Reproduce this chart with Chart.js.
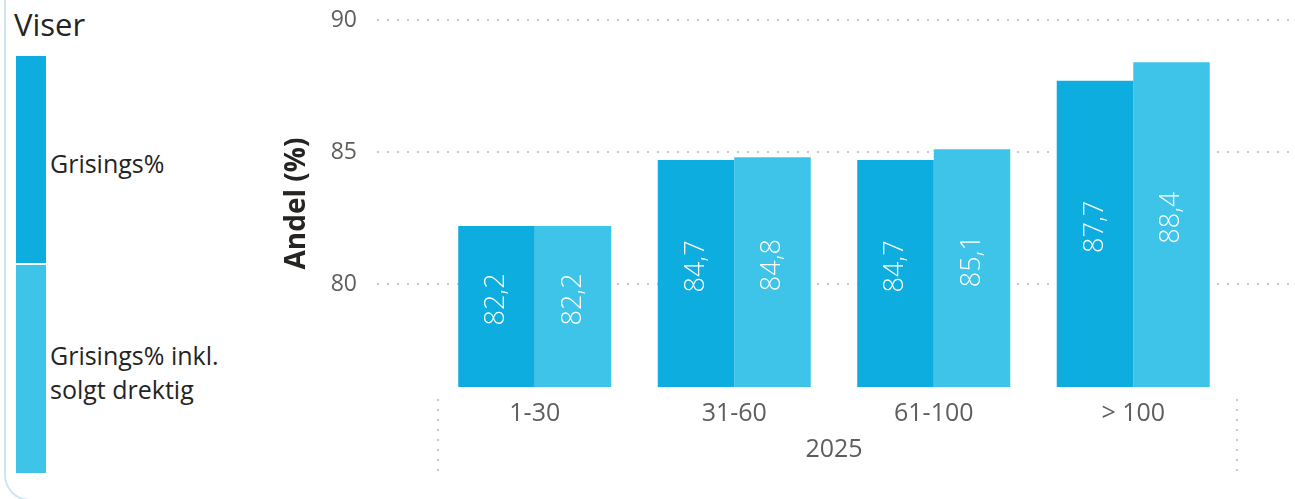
<!DOCTYPE html>
<html>
<head>
<meta charset="utf-8">
<script src="https://cdn.jsdelivr.net/npm/chart.js@4.4.1/dist/chart.umd.min.js"></script>
<style>
  html, body { margin: 0; padding: 0; background: #fff; }
  body { width: 1295px; height: 499px; position: relative; overflow: hidden; font-family: "Open Sans", "Noto Sans", sans-serif; }
  #frame { position: absolute; left: 4px; top: -30px; width: 1400px; height: 531px; border-left: 2px solid #d0e5f0; border-bottom: 2px solid #d0e5f0; border-bottom-left-radius: 26px; box-sizing: border-box; }
  #wrap { position: absolute; left: 0; top: 0; width: 1295px; height: 499px; }
  #legend { position: absolute; left: 0; top: 0; width: 270px; height: 499px; }
  #legTitle { position: absolute; left: 14px; top: 4px; font-size: 31px; color: #252423; line-height: 40px; }
  .item { position: absolute; left: 16px; width: 250px; display: flex; align-items: center; }
  .swatch { position: absolute; left: 0; top: 0; width: 30px; height: 100%; }
  .lbl { margin-left: 34px; font-size: 25px; line-height: 34px; color: #252423; padding-top: 6px; }
</style>
</head>
<body>
<div id="frame"></div>
<div id="legend">
  <div id="legTitle">Viser</div>
  <div class="item" style="top:56px;height:207px;"><div class="swatch" id="sw0"></div><div class="lbl" id="lb0"></div></div>
  <div class="item" style="top:265px;height:208px;"><div class="swatch" id="sw1"></div><div class="lbl" id="lb1"></div></div>
</div>
<div id="wrap"><canvas id="c"></canvas></div>
<script>
// ---- data ----
const categories = ['1-30', '31-60', '61-100', '> 100'];
const groupLabel = '2025';
const seriesNames = ['Grisings%', 'Grisings% inkl. solgt drektig'];
const grisings = [82.2, 84.7, 84.7, 87.7];
const grisingsInkl = [82.2, 84.8, 85.1, 88.4];
const yTicks = [80, 85, 90];
const yMin = 76.1;
const yMax = 90;
const yTitle = 'Andel (%)';
const colors = ['#0EADE0', '#3EC4E8'];

document.getElementById('sw0').style.background = colors[0];
document.getElementById('sw1').style.background = colors[1];
document.getElementById('lb0').textContent = seriesNames[0];
document.getElementById('lb1').innerHTML = 'Grisings% inkl.<br>solgt drektig';

function fmt(v) { return v.toFixed(1).replace('.', ','); }

const decoPlugin = {
  id: 'deco',
  beforeDatasetsDraw(chart) {
    const ctx = chart.ctx, y = chart.scales.y, a = chart.chartArea;
    ctx.save();
    ctx.strokeStyle = '#c8c8c8';
    ctx.lineWidth = 2;
    ctx.setLineDash([2, 8]);
    yTicks.forEach(function (v) {
      const py = Math.round(y.getPixelForValue(v));
      ctx.beginPath();
      ctx.moveTo(a.left - 58, py);
      ctx.lineTo(chart.width, py);
      ctx.stroke();
    });
    [a.left + 3, a.right + 4].forEach(function (px) {
      ctx.beginPath();
      ctx.moveTo(Math.round(px), a.bottom + 12);
      ctx.lineTo(Math.round(px), a.bottom + 84);
      ctx.stroke();
    });
    ctx.restore();
  },
  afterDatasetsDraw(chart) {
    const ctx = chart.ctx, a = chart.chartArea;
    for (let i = 0; i < chart.data.datasets.length; i++) {
      const ds = chart.data.datasets[i];
      const meta = chart.getDatasetMeta(i);
      for (let j = 0; j < meta.data.length; j++) {
        const bar = meta.data[j];
        const base = Math.min(bar.base, a.bottom);
        const cy = (bar.y + base) / 2 - 7;
        ctx.save();
        ctx.translate(bar.x, cy);
        ctx.rotate(-Math.PI / 2);
        ctx.font = '350 27px "Open Sans", sans-serif';
        ctx.fillStyle = '#ffffff';
        ctx.textAlign = 'center';
        ctx.textBaseline = 'middle';
        ctx.fillText(fmt(ds.data[j]), 0, 0);
        ctx.restore();
      }
    }
  }
};

new Chart(document.getElementById('c'), {
  type: 'bar',
  data: {
    labels: categories,
    datasets: [
      { label: seriesNames[0], data: grisings, backgroundColor: colors[0], borderWidth: 0 },
      { label: seriesNames[1], data: grisingsInkl, backgroundColor: colors[1], borderWidth: 0 }
    ]
  },
  options: {
    responsive: true,
    maintainAspectRatio: false,
    animation: false,
    categoryPercentage: 0.767,
    barPercentage: 1.0,
    layout: { padding: { left: 270, right: 62, top: 20, bottom: 0 } },
    plugins: { legend: { display: false }, tooltip: { enabled: false } },
    scales: {
      x: {
        grid: { display: false, drawTicks: false },
        border: { display: false },
        ticks: { color: '#605E5C', padding: 12, font: { family: '"Open Sans", sans-serif', size: 25 }, maxRotation: 0, autoSkip: false },
        title: { display: true, text: groupLabel, color: '#605E5C', font: { family: '"Open Sans", sans-serif', size: 25 }, padding: { top: 0, bottom: 34 } },
        afterFit(s) { s.height = 112; }
      },
      y: {
        min: yMin,
        max: yMax,
        grid: { display: false, drawTicks: false },
        border: { display: false },
        afterBuildTicks(s) { s.ticks = yTicks.map(function (v) { return { value: v }; }); },
        ticks: { color: '#605E5C', padding: 78, font: { family: '"Open Sans", sans-serif', size: 23 } },
        title: { display: true, text: yTitle, color: '#252423', font: { family: '"Open Sans", sans-serif', size: 28, weight: 'bold' }, padding: { top: 10, bottom: 0 } },
        afterFit(s) { s.width = 165; s.paddingTop = 0; s.paddingBottom = 0; }
      }
    }
  },
  plugins: [decoPlugin]
});
</script>
</body>
</html>
